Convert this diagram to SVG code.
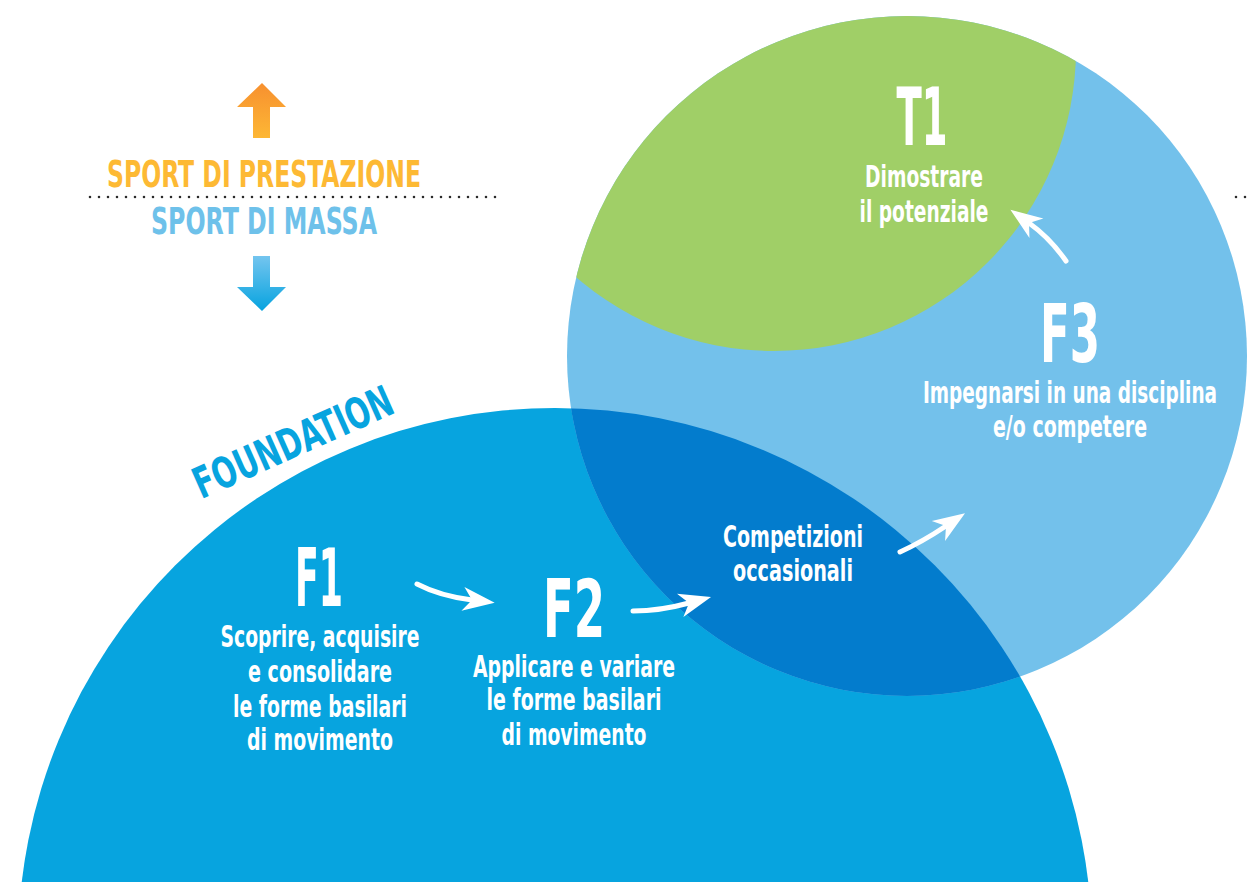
<svg xmlns="http://www.w3.org/2000/svg" width="1247" height="882" viewBox="0 0 1247 882">
<style>
.t{font-family:'Liberation Sans Narrow','DejaVu Sans Condensed','Liberation Sans',sans-serif;font-weight:bold;fill:#fff;text-anchor:middle}
.big{font-size:81px}
.body{font-size:30px}
.leg{font-family:'Liberation Sans Narrow','DejaVu Sans Condensed','Liberation Sans',sans-serif;font-weight:bold;font-size:37px}
.arr{fill:none;stroke:#fff;stroke-width:5;stroke-linecap:round;marker-end:url(#head)}
.dots{stroke:#2a2a2a;stroke-width:2.6;stroke-linecap:round;stroke-dasharray:0 9}
</style>
<defs>
<marker id="head" markerUnits="userSpaceOnUse" orient="auto" markerWidth="40" markerHeight="40" refX="0" refY="0" viewBox="-10 -15 35 30" overflow="visible">
<path d="M20,0 L-8,-10.5 L0,0 L-8,10.5 Z" fill="#fff"/>
</marker>
<linearGradient id="gUp" x1="0" y1="0" x2="0" y2="1">
<stop offset="0" stop-color="#F7902F"/><stop offset="1" stop-color="#FDB735"/>
</linearGradient>
<linearGradient id="gDown" x1="0" y1="0" x2="0" y2="1">
<stop offset="0" stop-color="#74C5EF"/><stop offset="1" stop-color="#06A3DF"/>
</linearGradient>
<clipPath id="clipBig"><circle cx="555" cy="945" r="537"/></clipPath>
<clipPath id="clipLight"><circle cx="907" cy="356" r="340"/></clipPath>
</defs>

<g id="legend">
<polygon points="262,83 286,107 270,107 270,138 253,138 253,107 237,107" fill="url(#gUp)"/>
<text class="leg" x="107" y="187" fill="#FDB934" textLength="314" lengthAdjust="spacingAndGlyphs">SPORT DI PRESTAZIONE</text>
<line class="dots" x1="90" y1="197" x2="504" y2="197"/>
<line class="dots" x1="1236" y1="197" x2="1246" y2="197"/>
<text class="leg" x="151" y="234" fill="#6EC1EA" textLength="226" lengthAdjust="spacingAndGlyphs">SPORT DI MASSA</text>
<polygon points="253,256 270,256 270,287 286,287 262,311 237,287 253,287" fill="url(#gDown)"/>
</g>

<g id="foundation-circle">
<circle cx="555" cy="945" r="537" fill="#07A4DF"/>
</g>
<g id="f3-circle">
<circle cx="907" cy="356" r="340" fill="#73C1EB"/>
</g>
<g id="overlap">
<circle cx="907" cy="356" r="340" fill="#037CCD" clip-path="url(#clipBig)"/>
</g>
<g id="t1-area">
<circle cx="774" cy="49" r="302" fill="#A0CF67" clip-path="url(#clipLight)"/>
</g>

<g id="foundation-label">
<text class="t" transform="translate(293,442) rotate(-24)" x="0" y="15" style="font-size:43px;fill:#07A4DF" textLength="214" lengthAdjust="spacingAndGlyphs">FOUNDATION</text>
</g>

<g id="f1">
<text class="t big" x="319" y="606" textLength="48" lengthAdjust="spacingAndGlyphs">F1</text>
<text class="t body" x="320" y="647" textLength="199" lengthAdjust="spacingAndGlyphs">Scoprire, acquisire</text>
<text class="t body" x="320" y="682" textLength="144" lengthAdjust="spacingAndGlyphs">e consolidare</text>
<text class="t body" x="320" y="717" textLength="174" lengthAdjust="spacingAndGlyphs">le forme basilari</text>
<text class="t body" x="320" y="750" textLength="146" lengthAdjust="spacingAndGlyphs">di movimento</text>
</g>

<g id="f2">
<text class="t big" x="574" y="637" textLength="62" lengthAdjust="spacingAndGlyphs">F2</text>
<text class="t body" x="574" y="677" textLength="202" lengthAdjust="spacingAndGlyphs">Applicare e variare</text>
<text class="t body" x="574" y="710" textLength="175" lengthAdjust="spacingAndGlyphs">le forme basilari</text>
<text class="t body" x="574" y="745" textLength="145" lengthAdjust="spacingAndGlyphs">di movimento</text>
</g>

<g id="comp">
<text class="t body" x="793" y="547" textLength="140" lengthAdjust="spacingAndGlyphs">Competizioni</text>
<text class="t body" x="793" y="581" textLength="120" lengthAdjust="spacingAndGlyphs">occasionali</text>
</g>

<g id="f3">
<text class="t big" x="1070" y="362" textLength="60" lengthAdjust="spacingAndGlyphs">F3</text>
<text class="t body" x="1070" y="403" textLength="294" lengthAdjust="spacingAndGlyphs">Impegnarsi in una disciplina</text>
<text class="t body" x="1070" y="437" textLength="154" lengthAdjust="spacingAndGlyphs">e/o competere</text>
</g>

<g id="t1">
<text class="t big" x="922" y="145" textLength="51" lengthAdjust="spacingAndGlyphs">T1</text>
<text class="t body" x="924" y="187" textLength="118" lengthAdjust="spacingAndGlyphs">Dimostrare</text>
<text class="t body" x="924" y="222" textLength="129" lengthAdjust="spacingAndGlyphs">il potenziale</text>
</g>

<g id="connectors">
<path class="arr" d="M417,584 Q440,596 472,600"/>
<path class="arr" d="M633,611 Q660,611 689,603"/>
<path class="arr" d="M900,552 Q922,542 946,526"/>
<path class="arr" d="M1066,261 Q1050,238 1029,223"/>
</g>
</svg>
